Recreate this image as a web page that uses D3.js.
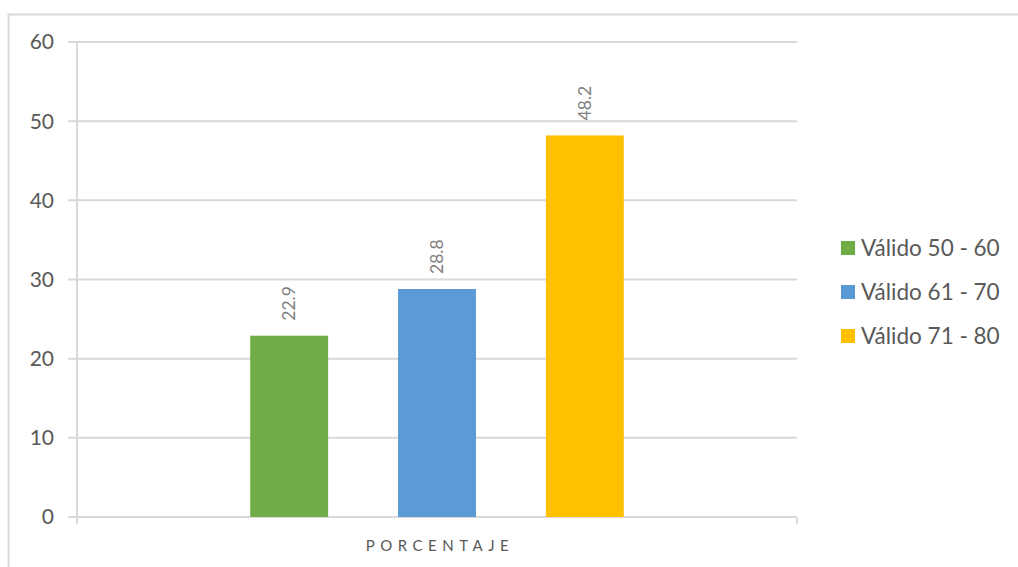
<!DOCTYPE html>
<html><head><meta charset="utf-8">
<script src="https://cdn.jsdelivr.net/npm/d3@7"></script>
<style>body{margin:0;background:#fff;}svg{display:block;font-family:Lato,"Open Sans",sans-serif;}</style>
</head><body>
<svg id="c" width="1018" height="567"></svg>
<script>
const categories = ["PORCENTAJE"];
const seriesNames = ["Válido 50 - 60", "Válido 61 - 70", "Válido 71 - 80"];
const seriesValues = [22.9, 28.8, 48.2];
const seriesColors = ["#70ad47", "#5b9bd5", "#ffc000"];
const yTicks = [0, 10, 20, 30, 40, 50, 60];

(function(){
const svg = d3.select("#c");
svg.append("path").attr("d","M8.5,600V14.5H1020").attr("fill","none").attr("stroke","#d9d9d9").attr("stroke-width",2);

const mLeft = 77, mRight = 797, mTop = 42, mBottom = 517;
const y = d3.scaleLinear().domain([0, 60]).range([mBottom, mTop]);
const x0 = d3.scaleBand().domain(categories).range([mLeft, mRight]).padding(0);
const bw = x0.bandwidth();
const x1 = d3.scaleBand().domain(seriesNames).range([0.192*bw, 0.808*bw]).paddingInner(0.473).paddingOuter(0.2365);

const g = svg.append("g");
g.selectAll("line.grid").data(yTicks).join("line")
  .attr("x1", mLeft-9).attr("x2", mRight).attr("y1", d=>y(d)).attr("y2", d=>y(d))
  .attr("stroke", "#d9d9d9").attr("stroke-width", 2);
g.append("line").attr("x1",mLeft).attr("x2",mLeft).attr("y1",mTop).attr("y2",mBottom).attr("stroke","#d9d9d9").attr("stroke-width",2);
g.selectAll("line.xt").data([mLeft, mRight]).join("line")
  .attr("x1", d=>d).attr("x2", d=>d).attr("y1", mBottom).attr("y2", mBottom+7)
  .attr("stroke","#d9d9d9").attr("stroke-width",2);

g.selectAll("text.yl").data(yTicks).join("text")
  .attr("x", 54).attr("y", d=>y(d)).attr("dy","0.35em").attr("text-anchor","end")
  .attr("fill","#595959").attr("font-size",21).text(d=>d);

const data = seriesNames.map((s,i)=>({cat:categories[0], name:s, value:seriesValues[i], color:seriesColors[i]}));
svg.selectAll("rect.bar").data(data).join("rect")
  .attr("x", d=>x0(d.cat)+x1(d.name)).attr("width", x1.bandwidth())
  .attr("y", d=>y(d.value)).attr("height", d=>y(0)-y(d.value)).attr("fill", d=>d.color);

svg.selectAll("text.val").data(data).join("text")
  .attr("transform", d=>`translate(${x0(d.cat)+x1(d.name)+x1.bandwidth()/2+6},${y(d.value)-15}) rotate(-90)`)
  .attr("text-anchor","start").attr("fill","#7f7f7f").attr("font-size",17.5)
  .text(d=>d.value.toFixed(1));

svg.append("text").attr("x", x0(categories[0])+bw/2+3).attr("y", 551).attr("text-anchor","middle")
  .attr("fill","#595959").attr("font-size",15).attr("letter-spacing","5.5px").text(categories[0]);

const leg = svg.append("g");
data.forEach((d,i)=>{
  const yy = 248 + i*44;
  leg.append("rect").attr("x",841).attr("y",yy-7).attr("width",14).attr("height",14).attr("fill",d.color);
  leg.append("text").attr("x",861).attr("y",yy).attr("dy","0.35em").attr("fill","#595959").attr("font-size",22.5).text(d.name);
});
})();
</script>
</body></html>
